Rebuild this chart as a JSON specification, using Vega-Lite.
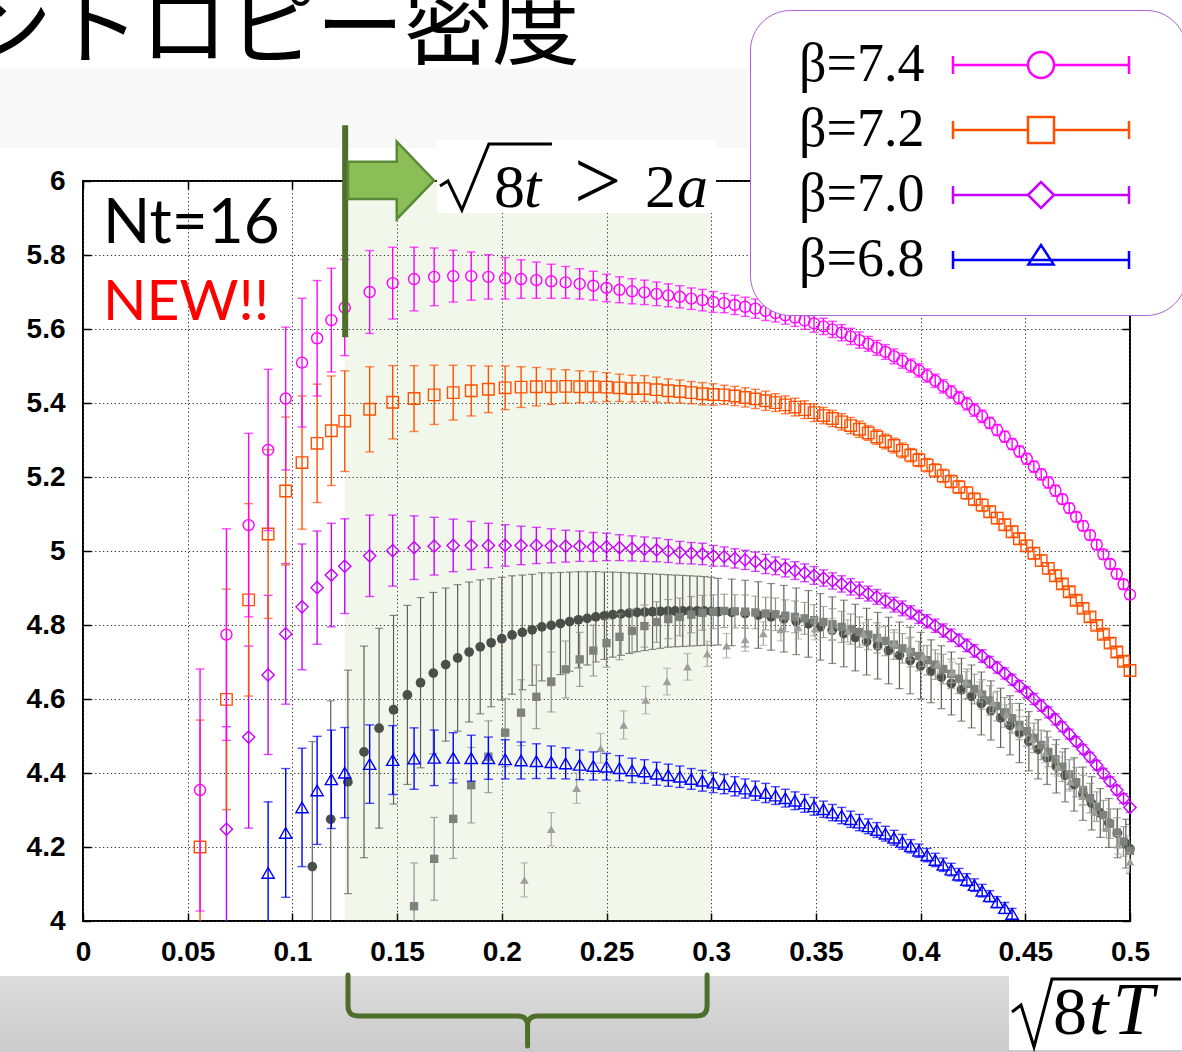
{
"$schema": "https://vega.github.io/schema/vega-lite/v6.json",
"width": 1047,
"height": 740,
"autosize": {"type": "none"},
"padding": {"left": 83, "top": 181, "right": 52, "bottom": 131},
"background": "#ffffff",
"config": {
  "view": {"stroke": "#000000", "strokeWidth": 2},
  "axis": {"labelFont": "Liberation Sans", "labelFontWeight": "bold", "labelFontSize": 28, "labelColor": "#000000", "tickColor": "#000000", "tickWidth": 1.5, "gridColor": "#333333", "gridDash": [1.3, 2.6], "gridWidth": 1, "gridOpacity": 1, "domain": false}
},
"datasets": {
"b74": [{"x":0.0559,"y":4.354,"e":0.327},{"x":0.0685,"y":4.774,"e":0.286},{"x":0.0791,"y":5.07,"e":0.248},{"x":0.0884,"y":5.273,"e":0.218},{"x":0.0968,"y":5.412,"e":0.193},{"x":0.1046,"y":5.509,"e":0.174},{"x":0.1118,"y":5.575,"e":0.156},{"x":0.1186,"y":5.624,"e":0.14},{"x":0.125,"y":5.658,"e":0.13},{"x":0.1369,"y":5.7,"e":0.112},{"x":0.1479,"y":5.724,"e":0.097},{"x":0.1581,"y":5.735,"e":0.086},{"x":0.1677,"y":5.741,"e":0.078},{"x":0.1768,"y":5.743,"e":0.07},{"x":0.1854,"y":5.743,"e":0.065},{"x":0.1936,"y":5.741,"e":0.06},{"x":0.2016,"y":5.737,"e":0.056},{"x":0.2092,"y":5.735,"e":0.052},{"x":0.2165,"y":5.732,"e":0.049},{"x":0.2236,"y":5.729,"e":0.046},{"x":0.2305,"y":5.726,"e":0.043},{"x":0.2372,"y":5.722,"e":0.041},{"x":0.2437,"y":5.717,"e":0.039},{"x":0.25,"y":5.711,"e":0.037},{"x":0.2562,"y":5.706,"e":0.035},{"x":0.2622,"y":5.702,"e":0.034},{"x":0.2681,"y":5.699,"e":0.033},{"x":0.2739,"y":5.695,"e":0.032},{"x":0.2795,"y":5.691,"e":0.031},{"x":0.285,"y":5.687,"e":0.03},{"x":0.2905,"y":5.682,"e":0.029},{"x":0.2958,"y":5.678,"e":0.029},{"x":0.301,"y":5.673,"e":0.028},{"x":0.3062,"y":5.67,"e":0.026},{"x":0.3113,"y":5.665,"e":0.026},{"x":0.3162,"y":5.66,"e":0.026},{"x":0.3211,"y":5.655,"e":0.026},{"x":0.326,"y":5.649,"e":0.026},{"x":0.3307,"y":5.643,"e":0.024},{"x":0.3354,"y":5.637,"e":0.024},{"x":0.34,"y":5.631,"e":0.024},{"x":0.3446,"y":5.623,"e":0.024},{"x":0.3491,"y":5.615,"e":0.024},{"x":0.3536,"y":5.607,"e":0.022},{"x":0.3579,"y":5.599,"e":0.022},{"x":0.3623,"y":5.59,"e":0.022},{"x":0.3666,"y":5.58,"e":0.022},{"x":0.3708,"y":5.57,"e":0.022},{"x":0.375,"y":5.56,"e":0.02},{"x":0.3791,"y":5.549,"e":0.02},{"x":0.3832,"y":5.538,"e":0.02},{"x":0.3873,"y":5.526,"e":0.02},{"x":0.3913,"y":5.514,"e":0.02},{"x":0.3953,"y":5.501,"e":0.018},{"x":0.3992,"y":5.488,"e":0.018},{"x":0.4031,"y":5.474,"e":0.018},{"x":0.407,"y":5.46,"e":0.018},{"x":0.4108,"y":5.445,"e":0.018},{"x":0.4146,"y":5.43,"e":0.017},{"x":0.4183,"y":5.414,"e":0.017},{"x":0.4221,"y":5.398,"e":0.017},{"x":0.4257,"y":5.381,"e":0.017},{"x":0.4294,"y":5.364,"e":0.017},{"x":0.433,"y":5.346,"e":0.015},{"x":0.4366,"y":5.327,"e":0.015},{"x":0.4402,"y":5.309,"e":0.015},{"x":0.4437,"y":5.289,"e":0.015},{"x":0.4472,"y":5.269,"e":0.015},{"x":0.4507,"y":5.249,"e":0.015},{"x":0.4541,"y":5.228,"e":0.015},{"x":0.4576,"y":5.207,"e":0.015},{"x":0.461,"y":5.185,"e":0.015},{"x":0.4644,"y":5.163,"e":0.015},{"x":0.4677,"y":5.14,"e":0.013},{"x":0.471,"y":5.116,"e":0.013},{"x":0.4743,"y":5.092,"e":0.013},{"x":0.4776,"y":5.068,"e":0.013},{"x":0.4809,"y":5.043,"e":0.013},{"x":0.4841,"y":5.017,"e":0.013},{"x":0.4873,"y":4.991,"e":0.013},{"x":0.4905,"y":4.965,"e":0.013},{"x":0.4937,"y":4.938,"e":0.013},{"x":0.4969,"y":4.91,"e":0.013},{"x":0.5,"y":4.882,"e":0.013}],
"b72": [{"x":0.0559,"y":4.2,"e":0.343},{"x":0.0685,"y":4.599,"e":0.298},{"x":0.0791,"y":4.868,"e":0.26},{"x":0.0884,"y":5.046,"e":0.228},{"x":0.0968,"y":5.162,"e":0.2},{"x":0.1046,"y":5.239,"e":0.18},{"x":0.1118,"y":5.291,"e":0.16},{"x":0.1186,"y":5.325,"e":0.148},{"x":0.125,"y":5.351,"e":0.136},{"x":0.1369,"y":5.383,"e":0.115},{"x":0.1479,"y":5.402,"e":0.099},{"x":0.1581,"y":5.412,"e":0.089},{"x":0.1677,"y":5.422,"e":0.08},{"x":0.1768,"y":5.428,"e":0.074},{"x":0.1854,"y":5.433,"e":0.068},{"x":0.1936,"y":5.437,"e":0.063},{"x":0.2016,"y":5.441,"e":0.059},{"x":0.2092,"y":5.443,"e":0.055},{"x":0.2165,"y":5.444,"e":0.052},{"x":0.2236,"y":5.444,"e":0.048},{"x":0.2305,"y":5.445,"e":0.045},{"x":0.2372,"y":5.444,"e":0.043},{"x":0.2437,"y":5.444,"e":0.041},{"x":0.25,"y":5.443,"e":0.039},{"x":0.2562,"y":5.441,"e":0.037},{"x":0.2622,"y":5.439,"e":0.036},{"x":0.2681,"y":5.439,"e":0.035},{"x":0.2739,"y":5.436,"e":0.034},{"x":0.2795,"y":5.433,"e":0.032},{"x":0.285,"y":5.431,"e":0.031},{"x":0.2905,"y":5.428,"e":0.03},{"x":0.2958,"y":5.425,"e":0.03},{"x":0.301,"y":5.423,"e":0.029},{"x":0.3062,"y":5.422,"e":0.026},{"x":0.3113,"y":5.419,"e":0.026},{"x":0.3162,"y":5.415,"e":0.026},{"x":0.3211,"y":5.411,"e":0.026},{"x":0.326,"y":5.406,"e":0.026},{"x":0.3307,"y":5.401,"e":0.024},{"x":0.3354,"y":5.395,"e":0.024},{"x":0.34,"y":5.389,"e":0.024},{"x":0.3446,"y":5.382,"e":0.024},{"x":0.3491,"y":5.374,"e":0.024},{"x":0.3536,"y":5.366,"e":0.022},{"x":0.3579,"y":5.358,"e":0.022},{"x":0.3623,"y":5.349,"e":0.022},{"x":0.3666,"y":5.339,"e":0.022},{"x":0.3708,"y":5.329,"e":0.022},{"x":0.375,"y":5.319,"e":0.02},{"x":0.3791,"y":5.308,"e":0.02},{"x":0.3832,"y":5.296,"e":0.02},{"x":0.3873,"y":5.285,"e":0.02},{"x":0.3913,"y":5.272,"e":0.02},{"x":0.3953,"y":5.259,"e":0.018},{"x":0.3992,"y":5.246,"e":0.018},{"x":0.4031,"y":5.232,"e":0.018},{"x":0.407,"y":5.218,"e":0.018},{"x":0.4108,"y":5.203,"e":0.018},{"x":0.4146,"y":5.188,"e":0.017},{"x":0.4183,"y":5.173,"e":0.017},{"x":0.4221,"y":5.157,"e":0.017},{"x":0.4257,"y":5.14,"e":0.017},{"x":0.4294,"y":5.124,"e":0.017},{"x":0.433,"y":5.106,"e":0.015},{"x":0.4366,"y":5.089,"e":0.015},{"x":0.4402,"y":5.071,"e":0.015},{"x":0.4437,"y":5.052,"e":0.015},{"x":0.4472,"y":5.033,"e":0.015},{"x":0.4507,"y":5.014,"e":0.015},{"x":0.4541,"y":4.994,"e":0.015},{"x":0.4576,"y":4.974,"e":0.015},{"x":0.461,"y":4.953,"e":0.015},{"x":0.4644,"y":4.933,"e":0.015},{"x":0.4677,"y":4.911,"e":0.013},{"x":0.471,"y":4.89,"e":0.013},{"x":0.4743,"y":4.867,"e":0.013},{"x":0.4776,"y":4.845,"e":0.013},{"x":0.4809,"y":4.822,"e":0.013},{"x":0.4841,"y":4.799,"e":0.013},{"x":0.4873,"y":4.775,"e":0.013},{"x":0.4905,"y":4.751,"e":0.013},{"x":0.4937,"y":4.727,"e":0.013},{"x":0.4969,"y":4.702,"e":0.013},{"x":0.5,"y":4.677,"e":0.013}],
"b70": [{"x":0.0685,"y":4.248,"e":0.277},{"x":0.0791,"y":4.497,"e":0.246},{"x":0.0884,"y":4.665,"e":0.215},{"x":0.0968,"y":4.776,"e":0.19},{"x":0.1046,"y":4.849,"e":0.17},{"x":0.1118,"y":4.901,"e":0.153},{"x":0.1186,"y":4.935,"e":0.14},{"x":0.125,"y":4.959,"e":0.128},{"x":0.1369,"y":4.987,"e":0.11},{"x":0.1479,"y":5.001,"e":0.096},{"x":0.1581,"y":5.009,"e":0.086},{"x":0.1677,"y":5.013,"e":0.078},{"x":0.1768,"y":5.015,"e":0.071},{"x":0.1854,"y":5.015,"e":0.065},{"x":0.1936,"y":5.015,"e":0.06},{"x":0.2016,"y":5.015,"e":0.056},{"x":0.2092,"y":5.015,"e":0.052},{"x":0.2165,"y":5.015,"e":0.049},{"x":0.2236,"y":5.014,"e":0.046},{"x":0.2305,"y":5.013,"e":0.043},{"x":0.2372,"y":5.013,"e":0.041},{"x":0.2437,"y":5.011,"e":0.039},{"x":0.25,"y":5.011,"e":0.037},{"x":0.2562,"y":5.009,"e":0.035},{"x":0.2622,"y":5.007,"e":0.034},{"x":0.2681,"y":5.005,"e":0.033},{"x":0.2739,"y":5.003,"e":0.032},{"x":0.2795,"y":5.0,"e":0.031},{"x":0.285,"y":4.996,"e":0.03},{"x":0.2905,"y":4.994,"e":0.029},{"x":0.2958,"y":4.992,"e":0.029},{"x":0.301,"y":4.987,"e":0.028},{"x":0.3062,"y":4.985,"e":0.026},{"x":0.3113,"y":4.98,"e":0.026},{"x":0.3162,"y":4.976,"e":0.026},{"x":0.3211,"y":4.971,"e":0.026},{"x":0.326,"y":4.965,"e":0.026},{"x":0.3307,"y":4.96,"e":0.024},{"x":0.3354,"y":4.954,"e":0.024},{"x":0.34,"y":4.947,"e":0.024},{"x":0.3446,"y":4.941,"e":0.024},{"x":0.3491,"y":4.934,"e":0.024},{"x":0.3536,"y":4.927,"e":0.022},{"x":0.3579,"y":4.919,"e":0.022},{"x":0.3623,"y":4.911,"e":0.022},{"x":0.3666,"y":4.903,"e":0.022},{"x":0.3708,"y":4.894,"e":0.022},{"x":0.375,"y":4.885,"e":0.02},{"x":0.3791,"y":4.876,"e":0.02},{"x":0.3832,"y":4.866,"e":0.02},{"x":0.3873,"y":4.855,"e":0.02},{"x":0.3913,"y":4.845,"e":0.02},{"x":0.3953,"y":4.834,"e":0.018},{"x":0.3992,"y":4.822,"e":0.018},{"x":0.4031,"y":4.81,"e":0.018},{"x":0.407,"y":4.798,"e":0.018},{"x":0.4108,"y":4.785,"e":0.018},{"x":0.4146,"y":4.772,"e":0.017},{"x":0.4183,"y":4.759,"e":0.017},{"x":0.4221,"y":4.745,"e":0.017},{"x":0.4257,"y":4.73,"e":0.017},{"x":0.4294,"y":4.716,"e":0.017},{"x":0.433,"y":4.7,"e":0.015},{"x":0.4366,"y":4.685,"e":0.015},{"x":0.4402,"y":4.669,"e":0.015},{"x":0.4437,"y":4.652,"e":0.015},{"x":0.4472,"y":4.635,"e":0.015},{"x":0.4507,"y":4.618,"e":0.015},{"x":0.4541,"y":4.6,"e":0.015},{"x":0.4576,"y":4.582,"e":0.015},{"x":0.461,"y":4.564,"e":0.015},{"x":0.4644,"y":4.545,"e":0.015},{"x":0.4677,"y":4.525,"e":0.013},{"x":0.471,"y":4.505,"e":0.013},{"x":0.4743,"y":4.485,"e":0.013},{"x":0.4776,"y":4.464,"e":0.013},{"x":0.4809,"y":4.443,"e":0.013},{"x":0.4841,"y":4.421,"e":0.013},{"x":0.4873,"y":4.399,"e":0.013},{"x":0.4905,"y":4.377,"e":0.013},{"x":0.4937,"y":4.354,"e":0.013},{"x":0.4969,"y":4.331,"e":0.013},{"x":0.5,"y":4.307,"e":0.013}],
"b68": [{"x":0.0884,"y":4.13,"e":0.192},{"x":0.0968,"y":4.238,"e":0.174},{"x":0.1046,"y":4.307,"e":0.16},{"x":0.1118,"y":4.353,"e":0.146},{"x":0.1186,"y":4.383,"e":0.133},{"x":0.125,"y":4.401,"e":0.122},{"x":0.1369,"y":4.424,"e":0.106},{"x":0.1479,"y":4.435,"e":0.093},{"x":0.1581,"y":4.439,"e":0.083},{"x":0.1677,"y":4.441,"e":0.075},{"x":0.1768,"y":4.441,"e":0.068},{"x":0.1854,"y":4.44,"e":0.062},{"x":0.1936,"y":4.44,"e":0.057},{"x":0.2016,"y":4.437,"e":0.053},{"x":0.2092,"y":4.434,"e":0.05},{"x":0.2165,"y":4.432,"e":0.047},{"x":0.2236,"y":4.429,"e":0.044},{"x":0.2305,"y":4.426,"e":0.042},{"x":0.2372,"y":4.422,"e":0.04},{"x":0.2437,"y":4.419,"e":0.038},{"x":0.25,"y":4.417,"e":0.036},{"x":0.2562,"y":4.413,"e":0.034},{"x":0.2622,"y":4.407,"e":0.033},{"x":0.2681,"y":4.404,"e":0.032},{"x":0.2739,"y":4.398,"e":0.031},{"x":0.2795,"y":4.394,"e":0.03},{"x":0.285,"y":4.39,"e":0.029},{"x":0.2905,"y":4.384,"e":0.028},{"x":0.2958,"y":4.379,"e":0.028},{"x":0.301,"y":4.374,"e":0.027},{"x":0.3062,"y":4.37,"e":0.026},{"x":0.3113,"y":4.364,"e":0.026},{"x":0.3162,"y":4.358,"e":0.026},{"x":0.3211,"y":4.352,"e":0.026},{"x":0.326,"y":4.346,"e":0.026},{"x":0.3307,"y":4.339,"e":0.024},{"x":0.3354,"y":4.332,"e":0.024},{"x":0.34,"y":4.325,"e":0.024},{"x":0.3446,"y":4.318,"e":0.024},{"x":0.3491,"y":4.31,"e":0.024},{"x":0.3536,"y":4.302,"e":0.022},{"x":0.3579,"y":4.293,"e":0.022},{"x":0.3623,"y":4.285,"e":0.022},{"x":0.3666,"y":4.275,"e":0.022},{"x":0.3708,"y":4.266,"e":0.022},{"x":0.375,"y":4.256,"e":0.02},{"x":0.3791,"y":4.246,"e":0.02},{"x":0.3832,"y":4.236,"e":0.02},{"x":0.3873,"y":4.225,"e":0.02},{"x":0.3913,"y":4.214,"e":0.02},{"x":0.3953,"y":4.202,"e":0.018},{"x":0.3992,"y":4.19,"e":0.018},{"x":0.4031,"y":4.178,"e":0.018},{"x":0.407,"y":4.165,"e":0.018},{"x":0.4108,"y":4.152,"e":0.018},{"x":0.4146,"y":4.139,"e":0.017},{"x":0.4183,"y":4.125,"e":0.017},{"x":0.4221,"y":4.111,"e":0.017},{"x":0.4257,"y":4.097,"e":0.017},{"x":0.4294,"y":4.082,"e":0.017},{"x":0.433,"y":4.067,"e":0.015},{"x":0.4366,"y":4.051,"e":0.015},{"x":0.4402,"y":4.035,"e":0.015},{"x":0.4437,"y":4.019,"e":0.015}],
"gc": [{"x":0.1095,"y":4.147,"e":0.338},{"x":0.1183,"y":4.275,"e":0.32},{"x":0.1265,"y":4.376,"e":0.302},{"x":0.1342,"y":4.457,"e":0.286},{"x":0.1414,"y":4.521,"e":0.27},{"x":0.1483,"y":4.571,"e":0.255},{"x":0.1549,"y":4.611,"e":0.242},{"x":0.1612,"y":4.644,"e":0.23},{"x":0.1673,"y":4.67,"e":0.218},{"x":0.1732,"y":4.693,"e":0.207},{"x":0.1789,"y":4.711,"e":0.198},{"x":0.1844,"y":4.727,"e":0.189},{"x":0.1897,"y":4.741,"e":0.181},{"x":0.1949,"y":4.752,"e":0.173},{"x":0.2,"y":4.763,"e":0.166},{"x":0.2049,"y":4.773,"e":0.16},{"x":0.2098,"y":4.78,"e":0.155},{"x":0.2145,"y":4.787,"e":0.15},{"x":0.2191,"y":4.795,"e":0.146},{"x":0.2236,"y":4.799,"e":0.142},{"x":0.228,"y":4.804,"e":0.138},{"x":0.2324,"y":4.809,"e":0.134},{"x":0.2366,"y":4.814,"e":0.13},{"x":0.2408,"y":4.818,"e":0.126},{"x":0.2449,"y":4.822,"e":0.122},{"x":0.249,"y":4.825,"e":0.118},{"x":0.253,"y":4.828,"e":0.115},{"x":0.2569,"y":4.83,"e":0.112},{"x":0.2608,"y":4.832,"e":0.109},{"x":0.2646,"y":4.834,"e":0.106},{"x":0.2683,"y":4.835,"e":0.104},{"x":0.272,"y":4.836,"e":0.102},{"x":0.2757,"y":4.837,"e":0.1},{"x":0.2793,"y":4.838,"e":0.098},{"x":0.2828,"y":4.838,"e":0.097},{"x":0.2864,"y":4.838,"e":0.096},{"x":0.2898,"y":4.838,"e":0.095},{"x":0.2933,"y":4.838,"e":0.094},{"x":0.2966,"y":4.838,"e":0.093},{"x":0.3,"y":4.837,"e":0.092},{"x":0.3033,"y":4.836,"e":0.09},{"x":0.3098,"y":4.834,"e":0.09},{"x":0.3162,"y":4.831,"e":0.09},{"x":0.3225,"y":4.827,"e":0.09},{"x":0.3286,"y":4.822,"e":0.09},{"x":0.3347,"y":4.817,"e":0.09},{"x":0.3406,"y":4.81,"e":0.09},{"x":0.3464,"y":4.803,"e":0.09},{"x":0.3521,"y":4.795,"e":0.09},{"x":0.3578,"y":4.786,"e":0.09},{"x":0.3633,"y":4.777,"e":0.09},{"x":0.3688,"y":4.766,"e":0.09},{"x":0.3742,"y":4.755,"e":0.09},{"x":0.3795,"y":4.744,"e":0.09},{"x":0.3847,"y":4.731,"e":0.09},{"x":0.3899,"y":4.718,"e":0.09},{"x":0.395,"y":4.704,"e":0.09},{"x":0.4,"y":4.69,"e":0.09},{"x":0.405,"y":4.675,"e":0.085},{"x":0.4099,"y":4.659,"e":0.085},{"x":0.4147,"y":4.642,"e":0.085},{"x":0.4195,"y":4.625,"e":0.085},{"x":0.4243,"y":4.607,"e":0.085},{"x":0.429,"y":4.588,"e":0.085},{"x":0.4336,"y":4.569,"e":0.08},{"x":0.4382,"y":4.549,"e":0.08},{"x":0.4427,"y":4.529,"e":0.08},{"x":0.4472,"y":4.508,"e":0.08},{"x":0.4517,"y":4.486,"e":0.08},{"x":0.4561,"y":4.464,"e":0.08},{"x":0.4604,"y":4.441,"e":0.072},{"x":0.4648,"y":4.418,"e":0.072},{"x":0.469,"y":4.394,"e":0.072},{"x":0.4733,"y":4.369,"e":0.072},{"x":0.4775,"y":4.344,"e":0.072},{"x":0.4817,"y":4.318,"e":0.072},{"x":0.4858,"y":4.292,"e":0.066},{"x":0.4899,"y":4.265,"e":0.066},{"x":0.494,"y":4.237,"e":0.066},{"x":0.498,"y":4.209,"e":0.066},{"x":0.5,"y":4.195,"e":0.066}],
"gs": [{"x":0.1581,"y":4.04,"e":0.117},{"x":0.1677,"y":4.168,"e":0.112},{"x":0.1768,"y":4.276,"e":0.107},{"x":0.1854,"y":4.367,"e":0.102},{"x":0.1936,"y":4.444,"e":0.097},{"x":0.2016,"y":4.509,"e":0.092},{"x":0.2092,"y":4.563,"e":0.089},{"x":0.2165,"y":4.606,"e":0.086},{"x":0.2236,"y":4.646,"e":0.081},{"x":0.2305,"y":4.68,"e":0.077},{"x":0.2372,"y":4.707,"e":0.073},{"x":0.2437,"y":4.731,"e":0.069},{"x":0.25,"y":4.751,"e":0.065},{"x":0.2562,"y":4.768,"e":0.062},{"x":0.2622,"y":4.784,"e":0.059},{"x":0.2681,"y":4.797,"e":0.057},{"x":0.2739,"y":4.808,"e":0.055},{"x":0.2795,"y":4.816,"e":0.053},{"x":0.285,"y":4.822,"e":0.051},{"x":0.2905,"y":4.828,"e":0.049},{"x":0.2958,"y":4.833,"e":0.047},{"x":0.301,"y":4.836,"e":0.046},{"x":0.3062,"y":4.838,"e":0.045},{"x":0.3113,"y":4.837,"e":0.045},{"x":0.3162,"y":4.836,"e":0.045},{"x":0.3211,"y":4.834,"e":0.044},{"x":0.326,"y":4.831,"e":0.044},{"x":0.3307,"y":4.829,"e":0.044},{"x":0.3354,"y":4.825,"e":0.043},{"x":0.34,"y":4.822,"e":0.043},{"x":0.3446,"y":4.818,"e":0.043},{"x":0.3491,"y":4.813,"e":0.042},{"x":0.3536,"y":4.808,"e":0.042},{"x":0.3579,"y":4.802,"e":0.042},{"x":0.3623,"y":4.795,"e":0.042},{"x":0.3666,"y":4.789,"e":0.041},{"x":0.3708,"y":4.781,"e":0.041},{"x":0.375,"y":4.774,"e":0.041},{"x":0.3791,"y":4.765,"e":0.041},{"x":0.3832,"y":4.757,"e":0.04},{"x":0.3873,"y":4.747,"e":0.04},{"x":0.3913,"y":4.737,"e":0.04},{"x":0.3953,"y":4.727,"e":0.04},{"x":0.3992,"y":4.716,"e":0.04},{"x":0.4031,"y":4.705,"e":0.04},{"x":0.407,"y":4.693,"e":0.04},{"x":0.4108,"y":4.681,"e":0.04},{"x":0.4146,"y":4.668,"e":0.04},{"x":0.4183,"y":4.655,"e":0.04},{"x":0.4221,"y":4.641,"e":0.04},{"x":0.4257,"y":4.627,"e":0.04},{"x":0.4294,"y":4.612,"e":0.04},{"x":0.433,"y":4.596,"e":0.04},{"x":0.4366,"y":4.581,"e":0.04},{"x":0.4402,"y":4.564,"e":0.04},{"x":0.4437,"y":4.548,"e":0.04},{"x":0.4472,"y":4.53,"e":0.04},{"x":0.4507,"y":4.513,"e":0.04},{"x":0.4541,"y":4.495,"e":0.04},{"x":0.4576,"y":4.476,"e":0.04},{"x":0.461,"y":4.457,"e":0.04},{"x":0.4644,"y":4.437,"e":0.04},{"x":0.4677,"y":4.417,"e":0.04},{"x":0.471,"y":4.396,"e":0.04},{"x":0.4743,"y":4.375,"e":0.04},{"x":0.4776,"y":4.354,"e":0.04},{"x":0.4809,"y":4.332,"e":0.04},{"x":0.4841,"y":4.309,"e":0.04},{"x":0.4873,"y":4.286,"e":0.04},{"x":0.4905,"y":4.263,"e":0.04},{"x":0.4937,"y":4.239,"e":0.04},{"x":0.4969,"y":4.215,"e":0.04},{"x":0.5,"y":4.19,"e":0.04}],
"gt": [{"x":0.2108,"y":4.111,"e":0.046},{"x":0.2236,"y":4.248,"e":0.045},{"x":0.2357,"y":4.359,"e":0.041},{"x":0.2472,"y":4.467,"e":0.04},{"x":0.2582,"y":4.53,"e":0.038},{"x":0.2687,"y":4.597,"e":0.037},{"x":0.2789,"y":4.647,"e":0.036},{"x":0.2887,"y":4.687,"e":0.036},{"x":0.2981,"y":4.722,"e":0.034},{"x":0.3073,"y":4.744,"e":0.033},{"x":0.3162,"y":4.761,"e":0.032},{"x":0.3249,"y":4.777,"e":0.032},{"x":0.3333,"y":4.788,"e":0.031},{"x":0.3416,"y":4.793,"e":0.031},{"x":0.3496,"y":4.79,"e":0.03},{"x":0.3575,"y":4.788,"e":0.03},{"x":0.3652,"y":4.784,"e":0.03},{"x":0.3727,"y":4.776,"e":0.03},{"x":0.3801,"y":4.765,"e":0.029},{"x":0.3873,"y":4.751,"e":0.029},{"x":0.3944,"y":4.735,"e":0.029},{"x":0.4014,"y":4.716,"e":0.028},{"x":0.4082,"y":4.695,"e":0.028},{"x":0.415,"y":4.672,"e":0.028},{"x":0.4216,"y":4.646,"e":0.028},{"x":0.4282,"y":4.619,"e":0.027},{"x":0.4346,"y":4.59,"e":0.027},{"x":0.441,"y":4.558,"e":0.027},{"x":0.4472,"y":4.525,"e":0.027},{"x":0.4534,"y":4.491,"e":0.026},{"x":0.4595,"y":4.454,"e":0.026},{"x":0.4655,"y":4.417,"e":0.026},{"x":0.4714,"y":4.377,"e":0.026},{"x":0.4773,"y":4.337,"e":0.025},{"x":0.483,"y":4.294,"e":0.025},{"x":0.4888,"y":4.251,"e":0.025},{"x":0.4944,"y":4.206,"e":0.025},{"x":0.5,"y":4.16,"e":0.025}]
},
"resolve": {"axis": {"x": "independent", "y": "independent"}},
"layer": [
  {"data": {"values": [{}]},
   "mark": {"type": "rect", "color": {"gradient": "linear", "x1": 0, "y1": 0, "x2": 0, "y2": 1, "stops": [{"offset": 0, "color": "#dcdcdc"}, {"offset": 1, "color": "#cbcbcb"}]}},
   "encoding": {"x": {"datum": -0.04, "axis": null}, "x2": {"datum": 0.525}, "y": {"datum": 3.8514, "axis": null}, "y2": {"datum": 3.64}}},
  {"data": {"values": [{}]},
   "mark": {"type": "rect", "color": "#f8f8f8"},
   "encoding": {"x": {"datum": -0.04, "axis": null}, "x2": {"datum": 0.3176}, "y": {"datum": 6.305, "axis": null}, "y2": {"datum": 6.089}}},
  {"data": {"values": [{}]},
   "mark": {"type": "rect", "color": "#ffffff"},
   "encoding": {"x": {"datum": 0.4422, "axis": null}, "x2": {"datum": 0.525}, "y": {"datum": 3.8514, "axis": null}, "y2": {"datum": 3.6514}}},
  {"data": {"values": [{}]},
   "mark": {"type": "rect", "color": "#8cbf5a", "opacity": 0.12},
   "encoding": {"x": {"datum": 0.125, "axis": null}, "x2": {"datum": 0.3}, "y": {"datum": 4, "axis": null}, "y2": {"datum": 6}}},

  {"data": {"name": "gc"},
   "mark": {"type": "errorbar", "color": "#5b5f59", "thickness": 1.2, "ticks": {"size": 8, "clip": true}, "rule": {"clip": true}},
   "encoding": {"x": {"field": "x", "type": "quantitative", "scale": {"domain": [0, 0.5], "nice": false, "zero": false}, "axis": null}, "y": {"field": "y", "type": "quantitative", "scale": {"domain": [4, 6], "nice": false, "zero": false}, "axis": null}, "yError": {"field": "e"}}},
  {"data": {"name": "gc"},
   "mark": {"type": "point", "shape": "circle", "filled": true, "color": "#4b4f49", "size": 95, "opacity": 1},
   "encoding": {"x": {"field": "x", "type": "quantitative", "scale": {"domain": [0, 0.5], "nice": false, "zero": false}, "axis": null}, "y": {"field": "y", "type": "quantitative", "scale": {"domain": [4, 6], "nice": false, "zero": false}, "axis": null}}},
  {"data": {"name": "gs"},
   "mark": {"type": "errorbar", "color": "#8a8d88", "thickness": 1.2, "ticks": {"size": 8, "clip": true}, "rule": {"clip": true}},
   "encoding": {"x": {"field": "x", "type": "quantitative", "scale": {"domain": [0, 0.5], "nice": false, "zero": false}, "axis": null}, "y": {"field": "y", "type": "quantitative", "scale": {"domain": [4, 6], "nice": false, "zero": false}, "axis": null}, "yError": {"field": "e"}}},
  {"data": {"name": "gs"},
   "mark": {"type": "point", "shape": "square", "filled": true, "color": "#7e817c", "size": 70, "opacity": 1},
   "encoding": {"x": {"field": "x", "type": "quantitative", "scale": {"domain": [0, 0.5], "nice": false, "zero": false}, "axis": null}, "y": {"field": "y", "type": "quantitative", "scale": {"domain": [4, 6], "nice": false, "zero": false}, "axis": null}}},
  {"data": {"name": "gt"},
   "mark": {"type": "errorbar", "color": "#a6a9a4", "thickness": 1.2, "ticks": {"size": 8, "clip": true}, "rule": {"clip": true}},
   "encoding": {"x": {"field": "x", "type": "quantitative", "scale": {"domain": [0, 0.5], "nice": false, "zero": false}, "axis": null}, "y": {"field": "y", "type": "quantitative", "scale": {"domain": [4, 6], "nice": false, "zero": false}, "axis": null}, "yError": {"field": "e"}}},
  {"data": {"name": "gt"},
   "mark": {"type": "point", "shape": "triangle-up", "filled": true, "color": "#9c9f9a", "size": 75, "opacity": 1},
   "encoding": {"x": {"field": "x", "type": "quantitative", "scale": {"domain": [0, 0.5], "nice": false, "zero": false}, "axis": null}, "y": {"field": "y", "type": "quantitative", "scale": {"domain": [4, 6], "nice": false, "zero": false}, "axis": null}}},

  {"data": {"name": "b68"},
   "mark": {"type": "errorbar", "color": "#0000ff", "thickness": 1.4, "ticks": {"size": 9, "clip": true}, "rule": {"clip": true}},
   "encoding": {"x": {"field": "x", "type": "quantitative", "scale": {"domain": [0, 0.5], "nice": false, "zero": false}, "axis": null}, "y": {"field": "y", "type": "quantitative", "scale": {"domain": [4, 6], "nice": false, "zero": false}, "axis": null}, "yError": {"field": "e"}}},
  {"data": {"name": "b68"},
   "mark": {"type": "point", "shape": "triangle-up", "filled": false, "color": "#0000ff", "size": 150, "strokeWidth": 1.4, "opacity": 1},
   "encoding": {"x": {"field": "x", "type": "quantitative", "scale": {"domain": [0, 0.5], "nice": false, "zero": false}, "axis": null}, "y": {"field": "y", "type": "quantitative", "scale": {"domain": [4, 6], "nice": false, "zero": false}, "axis": null}}},
  {"data": {"name": "b70"},
   "mark": {"type": "errorbar", "color": "#c800ff", "thickness": 1.4, "ticks": {"size": 9, "clip": true}, "rule": {"clip": true}},
   "encoding": {"x": {"field": "x", "type": "quantitative", "scale": {"domain": [0, 0.5], "nice": false, "zero": false}, "axis": null}, "y": {"field": "y", "type": "quantitative", "scale": {"domain": [4, 6], "nice": false, "zero": false}, "axis": null}, "yError": {"field": "e"}}},
  {"data": {"name": "b70"},
   "mark": {"type": "point", "shape": "diamond", "filled": false, "color": "#c800ff", "size": 150, "strokeWidth": 1.4, "opacity": 1},
   "encoding": {"x": {"field": "x", "type": "quantitative", "scale": {"domain": [0, 0.5], "nice": false, "zero": false}, "axis": null}, "y": {"field": "y", "type": "quantitative", "scale": {"domain": [4, 6], "nice": false, "zero": false}, "axis": null}}},
  {"data": {"name": "b72"},
   "mark": {"type": "errorbar", "color": "#ff5000", "thickness": 1.4, "ticks": {"size": 9, "clip": true}, "rule": {"clip": true}},
   "encoding": {"x": {"field": "x", "type": "quantitative", "scale": {"domain": [0, 0.5], "nice": false, "zero": false}, "axis": null}, "y": {"field": "y", "type": "quantitative", "scale": {"domain": [4, 6], "nice": false, "zero": false}, "axis": null}, "yError": {"field": "e"}}},
  {"data": {"name": "b72"},
   "mark": {"type": "point", "shape": "square", "filled": false, "color": "#ff5000", "size": 132, "strokeWidth": 1.4, "opacity": 1},
   "encoding": {
     "x": {"field": "x", "type": "quantitative", "scale": {"domain": [0, 0.5], "nice": false, "zero": false},
           "axis": {"orient": "top", "values": [0, 0.05, 0.1, 0.15, 0.2, 0.25, 0.3, 0.35, 0.4, 0.45, 0.5], "labels": false, "grid": false, "tickSize": -8, "domain": false, "title": null}},
     "y": {"field": "y", "type": "quantitative", "scale": {"domain": [4, 6], "nice": false, "zero": false},
           "axis": {"orient": "right", "values": [4, 4.2, 4.4, 4.6, 4.8, 5, 5.2, 5.4, 5.6, 5.8, 6], "labels": false, "grid": false, "tickSize": -8, "domain": false, "title": null}}}},
  {"data": {"name": "b74"},
   "mark": {"type": "errorbar", "color": "#ff00ff", "thickness": 1.4, "ticks": {"size": 9, "clip": true}, "rule": {"clip": true}},
   "encoding": {"x": {"field": "x", "type": "quantitative", "scale": {"domain": [0, 0.5], "nice": false, "zero": false}, "axis": null}, "y": {"field": "y", "type": "quantitative", "scale": {"domain": [4, 6], "nice": false, "zero": false}, "axis": null}, "yError": {"field": "e"}}},
  {"data": {"name": "b74"},
   "mark": {"type": "point", "shape": "circle", "filled": false, "color": "#ff00ff", "size": 121, "strokeWidth": 1.4, "opacity": 1},
   "encoding": {
     "x": {"field": "x", "type": "quantitative", "scale": {"domain": [0, 0.5], "nice": false, "zero": false},
           "axis": {"orient": "bottom", "values": [0, 0.05, 0.1, 0.15, 0.2, 0.25, 0.3, 0.35, 0.4, 0.45, 0.5], "format": ".2~f", "labelFlush": false, "labelOverlap": false, "labelPadding": 25, "tickSize": -8, "grid": true, "domain": false, "title": null}},
     "y": {"field": "y", "type": "quantitative", "scale": {"domain": [4, 6], "nice": false, "zero": false},
           "axis": {"orient": "left", "values": [4, 4.2, 4.4, 4.6, 4.8, 5, 5.2, 5.4, 5.6, 5.8, 6], "format": ".1~f", "labelFlush": false, "labelOverlap": false, "labelPadding": 26, "tickSize": -8, "grid": true, "domain": false, "title": null}}}},

  {"data": {"values": [{}]},
   "mark": {"type": "rect", "color": "#ffffff"},
   "encoding": {"x": {"datum": 0.169, "axis": null}, "x2": {"datum": 0.3023}, "y": {"datum": 5.9135, "axis": null}, "y2": {"datum": 6.111}}},
  {"data": {"values": [{}]},
   "mark": {"type": "point", "shape": "M-0.933,0.15L-0.8,0.067L-0.567,0.55L-0.117,-0.55L0.933,-0.55", "size": 14400, "filled": false, "color": "#000000", "strokeWidth": 3, "opacity": 1},
   "encoding": {"x": {"datum": 0.1972, "axis": null}, "y": {"datum": 6.0108, "axis": null}}},
  {"data": {"values": [{}]},
   "mark": {"type": "text", "text": "8", "font": "Liberation Serif", "fontSize": 62, "align": "left", "baseline": "alphabetic", "color": "#000000"},
   "encoding": {"x": {"datum": 0.1963, "axis": null}, "y": {"datum": 5.9297, "axis": null}}},
  {"data": {"values": [{}]},
   "mark": {"type": "text", "text": "t", "font": "Liberation Serif", "fontStyle": "italic", "fontSize": 62, "align": "left", "baseline": "alphabetic", "color": "#000000"},
   "encoding": {"x": {"datum": 0.2106, "axis": null}, "y": {"datum": 5.9297, "axis": null}}},
  {"data": {"values": [{}]},
   "mark": {"type": "text", "text": ">", "font": "Liberation Serif", "fontSize": 84, "align": "left", "baseline": "alphabetic", "color": "#000000"},
   "encoding": {"x": {"datum": 0.2345, "axis": null}, "y": {"datum": 5.924, "axis": null}}},
  {"data": {"values": [{}]},
   "mark": {"type": "text", "text": "2", "font": "Liberation Serif", "fontSize": 62, "align": "left", "baseline": "alphabetic", "color": "#000000"},
   "encoding": {"x": {"datum": 0.2684, "axis": null}, "y": {"datum": 5.9297, "axis": null}}},
  {"data": {"values": [{}]},
   "mark": {"type": "text", "text": "a", "font": "Liberation Serif", "fontStyle": "italic", "fontSize": 62, "align": "left", "baseline": "alphabetic", "color": "#000000"},
   "encoding": {"x": {"datum": 0.2837, "axis": null}, "y": {"datum": 5.9297, "axis": null}}},

  {"data": {"values": [{}]},
   "mark": {"type": "rule", "color": "#4f6e2b", "strokeWidth": 6},
   "encoding": {"x": {"datum": 0.1252, "axis": null}, "y": {"datum": 6.151, "axis": null}, "y2": {"datum": 5.578}}},
  {"data": {"values": [{}]},
   "mark": {"type": "point", "shape": "M-1,-0.435L0.133,-0.435L0.133,-0.9L1,0L0.133,0.9L0.133,0.435L-1,0.435Z", "size": 7396, "filled": true, "fill": "#8cbe58", "stroke": "#5b8a36", "strokeWidth": 2.5, "opacity": 1},
   "encoding": {"x": {"datum": 0.1471, "axis": null}, "y": {"datum": 6.0016, "axis": null}}},
  {"data": {"values": [{}]},
   "mark": {"type": "point", "shape": "M-0.992,-0.193V-0.022Q-0.992,0.033,-0.937,0.033H-0.055Q0,0.033,0,0.088V0.199M0,0.088Q0,0.033,0.055,0.033H0.937Q0.992,0.033,0.992,-0.022V-0.193", "size": 131044, "filled": false, "color": "#4f6e2b", "strokeWidth": 5, "strokeCap": "round", "strokeJoin": "round", "opacity": 1},
   "encoding": {"x": {"datum": 0.2123, "axis": null}, "y": {"datum": 3.7595, "axis": null}}},

  {"data": {"values": [{}]},
   "mark": {"type": "point", "shape": "M-0.994,-0.012L-0.888,-0.094L-0.735,0.4L-0.524,-0.4L0.994,-0.4", "size": 28900, "filled": false, "color": "#000000", "strokeWidth": 3, "opacity": 1},
   "encoding": {"x": {"datum": 0.484, "axis": null}, "y": {"datum": 3.7514, "axis": null}}},
  {"data": {"values": [{}]},
   "mark": {"type": "text", "text": "8", "font": "Liberation Serif", "fontSize": 68, "align": "left", "baseline": "alphabetic", "color": "#000000"},
   "encoding": {"x": {"datum": 0.4632, "axis": null}, "y": {"datum": 3.6946, "axis": null}}},
  {"data": {"values": [{}]},
   "mark": {"type": "text", "text": "t", "font": "Liberation Serif", "fontStyle": "italic", "fontSize": 70, "align": "left", "baseline": "alphabetic", "color": "#000000"},
   "encoding": {"x": {"datum": 0.4804, "axis": null}, "y": {"datum": 3.6946, "axis": null}}},
  {"data": {"values": [{}]},
   "mark": {"type": "text", "text": "T", "font": "Liberation Serif", "fontStyle": "italic", "fontSize": 74, "align": "left", "baseline": "alphabetic", "color": "#000000"},
   "encoding": {"x": {"datum": 0.4918, "axis": null}, "y": {"datum": 3.6946, "axis": null}}},

  {"data": {"values": [{}]},
   "mark": {"type": "text", "text": "エントロピー密度", "font": "Noto Sans CJK JP", "fontSize": 88, "align": "right", "baseline": "alphabetic", "color": "#000000"},
   "encoding": {"x": {"datum": 0.2373, "axis": null}, "y": {"datum": 6.335, "axis": null}}},
  {"data": {"values": [{}]},
   "mark": {"type": "text", "text": "Nt=16", "font": "Lato", "fontSize": 62, "align": "left", "baseline": "alphabetic", "color": "#000000"},
   "encoding": {"x": {"datum": 0.0096, "axis": null}, "y": {"datum": 5.8324, "axis": null}}},
  {"data": {"values": [{}]},
   "mark": {"type": "text", "text": "NEW!!", "font": "Lato", "fontSize": 57, "align": "left", "baseline": "alphabetic", "color": "#ff0000"},
   "encoding": {"x": {"datum": 0.0096, "axis": null}, "y": {"datum": 5.6243, "axis": null}}},

  {"data": {"values": [{"beta": "β=7.4"}, {"beta": "β=7.2"}, {"beta": "β=7.0"}, {"beta": "β=6.8"}]},
   "mark": {"type": "point", "filled": false, "opacity": 0},
   "encoding": {
     "color": {"field": "beta", "type": "nominal",
               "scale": {"domain": ["β=7.4", "β=7.2", "β=7.0", "β=6.8"], "range": ["#ff00ff", "#ff5000", "#c800ff", "#0000ff"]},
               "legend": {"title": null, "orient": "none", "legendX": 667, "legendY": -171, "direction": "vertical", "padding": 28, "strokeColor": "#a462d6", "cornerRadius": 40, "fillColor": "#ffffff", "labelFont": "Liberation Serif", "labelFontSize": 54, "labelColor": "#000000", "labelLimit": 400, "labelOffset": -33, "labelAlign": "left", "symbolSize": 1600, "symbolStrokeWidth": 2.5, "symbolFillColor": "transparent", "symbolOpacity": 1, "rowPadding": 11, "symbolOffset": 0,
                          "encode": {"legend": {"update": {"strokeWidth": {"value": 3}}}}}},
     "shape": {"field": "beta", "type": "nominal",
               "scale": {"domain": ["β=7.4", "β=7.2", "β=7.0", "β=6.8"],
                         "range": ["M7.4,-0.45V0.45M7.4,0H11.15A0.65,0.65,0,1,1,12.45,0A0.65,0.65,0,1,1,11.15,0M12.45,0H16.2M16.2,-0.45V0.45M17.4,0",
                                   "M7.4,-0.45V0.45M7.4,0H11.15M11.15,-0.65H12.45V0.65H11.15ZM12.45,0H16.2M16.2,-0.45V0.45M17.4,0",
                                   "M7.4,-0.45V0.45M7.4,0H11.15M11.15,0L11.8,-0.65L12.45,0L11.8,0.65ZM12.45,0H16.2M16.2,-0.45V0.45M17.4,0",
                                   "M7.4,-0.45V0.45M7.4,0H16.2M16.2,-0.45V0.45M11.17,0.22L11.8,-0.75L12.43,0.22ZM17.4,0"]}}}}
]
}
